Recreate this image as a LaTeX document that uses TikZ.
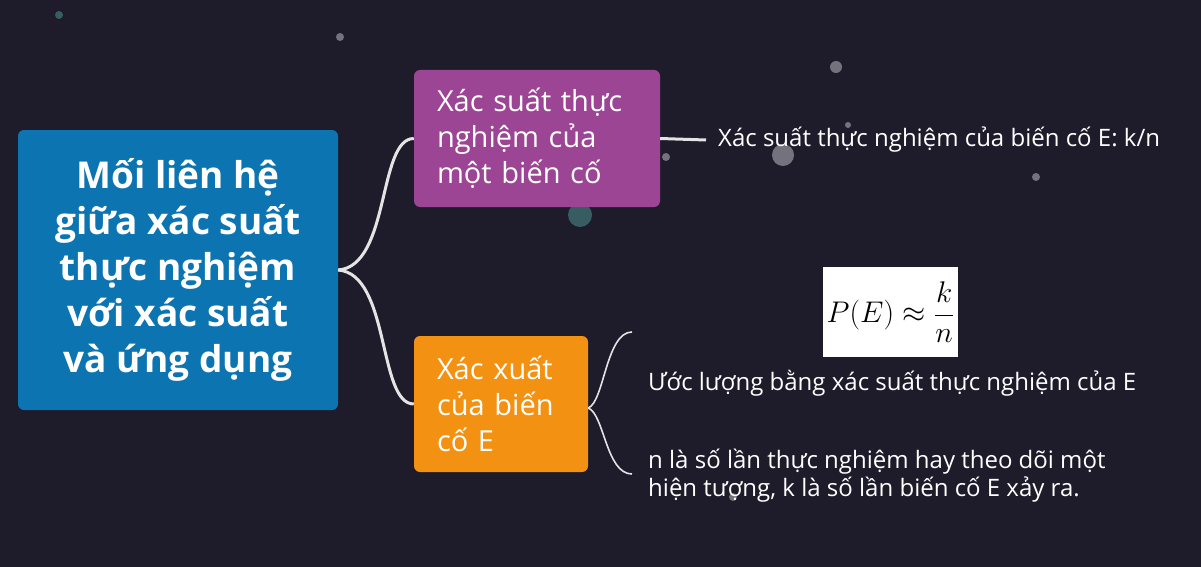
\documentclass[tikz,border=0pt]{standalone}
\usepackage{fontspec}
\setmainfont{Open Sans}
\usetikzlibrary{positioning}

\definecolor{bgdark}{HTML}{1E1B2B}
\definecolor{rootblue}{HTML}{0C74B1}
\definecolor{expurple}{HTML}{9C4594}
\definecolor{estorange}{HTML}{F39212}
\definecolor{linegray}{HTML}{E4E4E4}
\definecolor{dotgray}{HTML}{8A8A92}
\definecolor{dotteal}{HTML}{3E6E70}

\tikzset{
  topic/.style={rectangle, rounded corners=6pt, text=white, align=left,
    inner xsep=23pt, inner ysep=0pt, font=\fontsize{29}{36}\selectfont},
  leaf/.style={text=white, align=left, inner sep=0pt,
    font=\fontsize{24}{28}\selectfont},
  branch/.style={draw=linegray, line width=3pt},
  twig/.style={draw=linegray, line width=1.6pt},
}

\begin{document}
\begin{tikzpicture}[x=1pt,y=-1pt]
  \fill[bgdark] (0,0) rectangle (1201,567);
  \useasboundingbox (0,0) rectangle (1201,567);

  % background dots
  \foreach \px/\py/\pr/\pc in {59/15/4/dotteal, 340/37/4/dotgray, 836/67/6/dotgray,
      783/155/11/dotgray, 666/157/4/dotgray, 848/125/3/dotgray, 580/215/12/dotteal,
      1036/177/4/dotgray, 733/497/4/dotgray}
    \fill[\pc, opacity=0.8] (\px,\py) circle (\pr);

  % main topic
  \node[rectangle, rounded corners=6pt, fill=rootblue, text=white, align=center,
    minimum width=320pt, minimum height=280pt, inner sep=0pt,
    font=\fontsize{37}{46}\selectfont\bfseries] (root) at (178,270)
    {Mối liên hệ\\giữa xác suất\\thực nghiệm\\với xác suất\\và ứng dụng};

  \node[topic, fill=expurple, text width=200pt, minimum height=137pt] (exp) at (537,138.5)
    {Xác suất thực\\nghiệm của\\một biến cố};
  \node[topic, fill=estorange, text width=128pt, minimum height=136pt] (est) at (501,404)
    {Xác xuất\\của biến\\cố E};

  \node[leaf, inner xsep=12pt, anchor=west] (expdef) at (706,140)
    {Xác suất thực nghiệm của biến cố E: k/n};

  \node[fill=white, minimum width=135pt, minimum height=90pt, inner sep=0pt,
    font=\fontsize{25}{30}\selectfont] (formula) at (890.5,312)
    {\scalebox{1.2}{$\displaystyle P(E)\approx\frac{k}{n}$}};
  \node[leaf, anchor=west] (estimate) at (648,383)
    {Ước lượng bằng xác suất thực nghiệm của E};
  \node[leaf, anchor=west] (meaning) at (648,476)
    {n là số lần thực nghiệm hay theo dõi một\\hiện tượng, k là số lần biến cố E xảy ra.};

  \coordinate (brtop) at (632,332);
  \coordinate (brbot) at (632,474);

  % connectors
  \draw[branch] (root.east) .. controls +(52,-4) and +(-36,0) .. (exp.west);
  \draw[branch] (root.east) .. controls +(52,4) and +(-36,0) .. (est.west);
  \draw[branch] (exp.east) -- (expdef.west);
  \draw[twig] ([yshift=-4pt]est.east) .. controls +(16,-6) and +(-26,0) .. (brtop);
  \draw[twig] ([yshift=-4pt]est.east) .. controls +(16,6) and +(-26,0) .. (brbot);
\end{tikzpicture}
\end{document}
